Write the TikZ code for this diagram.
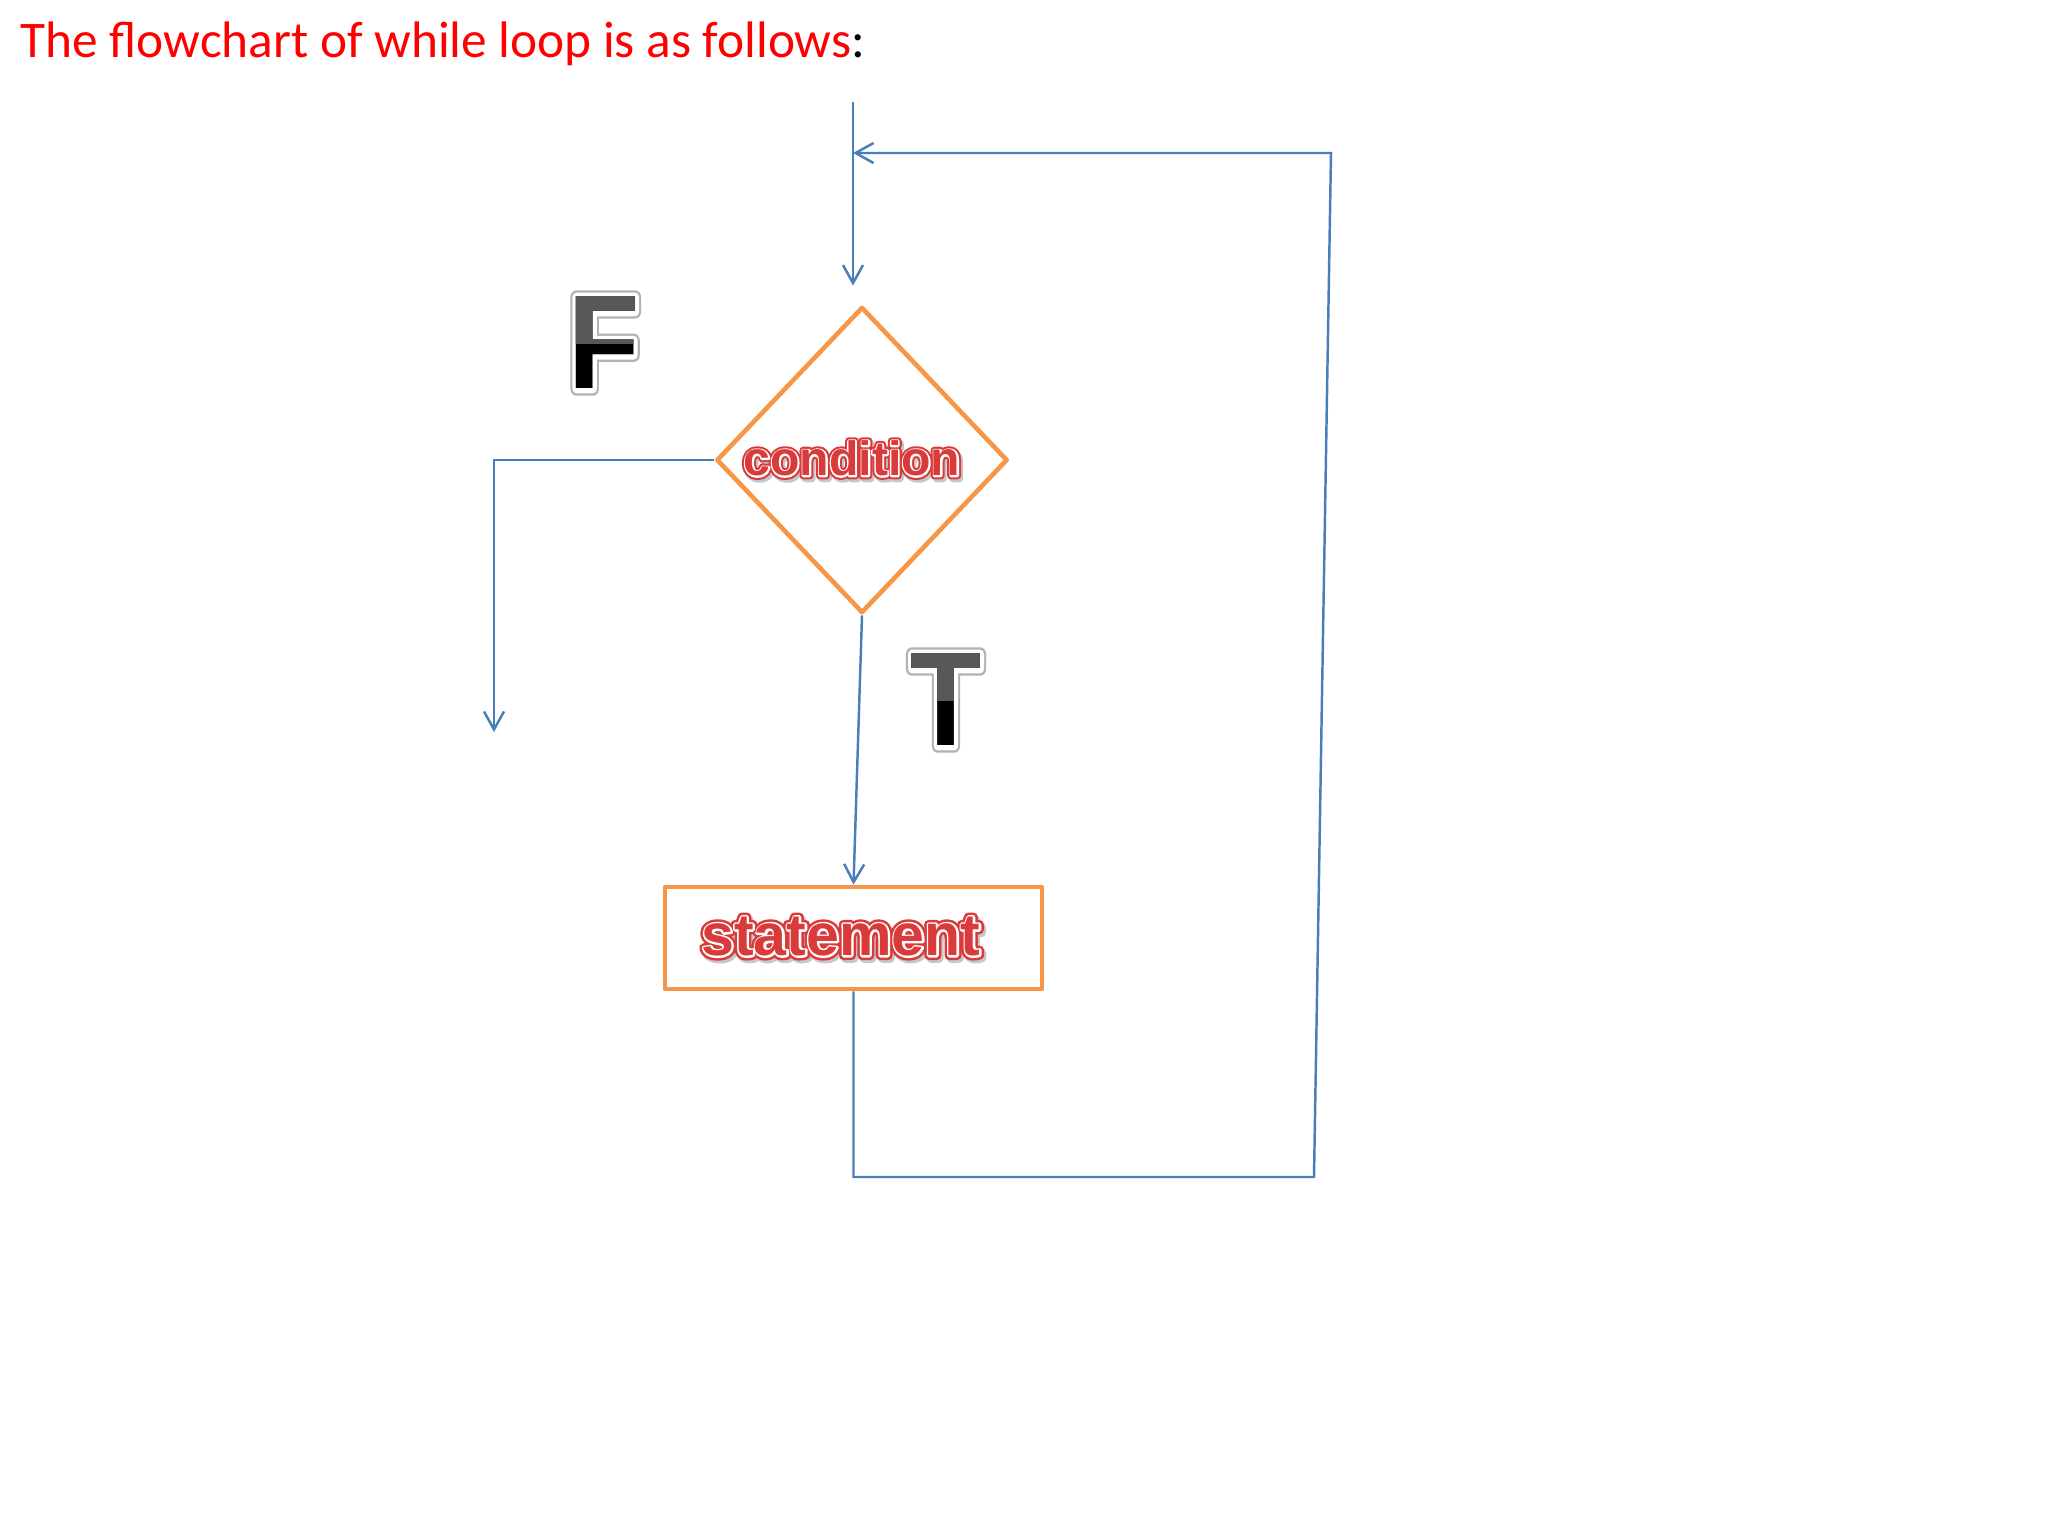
\documentclass[tikz,border=0pt]{standalone}
\usepackage{fontspec}
\setmainfont{Carlito}
\newfontfamily\artfont{Liberation Sans Bold}
\newfontfamily\artrim{Liberation Sans Bold}[FakeBold=15]
\newfontfamily\artline{Liberation Sans Bold}[FakeBold=6.5]
\newfontfamily\letterrim{Liberation Sans Bold}[FakeBold=10]
\newfontfamily\letterline{Liberation Sans Bold}[FakeBold=6.5]
\usepackage{xcolor}
\usetikzlibrary{shapes.geometric,arrows.meta}

\definecolor{flowblue}{HTML}{4A7EBB}
\definecolor{boxorange}{HTML}{F79646}
\definecolor{artred}{HTML}{D93A3A}
\definecolor{lettergrey}{HTML}{585858}

% red word-art text: shadow, red rim, white inline, red fill
\newcommand{\artword}[1]{%
  \rlap{\kern0.6pt\raisebox{-0.8pt}{\artrim\textcolor{black!22}{#1}}}%
  \rlap{\artrim\textcolor{artred}{#1}}%
  \rlap{\artline\textcolor{white}{#1}}%
  {\artfont\textcolor{artred}{#1}}}
% big black letter with white rim and grey edge
\newcommand{\bigletter}[1]{%
  \rlap{\letterrim\textcolor{black!30}{#1}}%
  \rlap{\letterline\textcolor{white}{#1}}%
  {\artfont\textcolor{black}{#1}}}

\begin{document}
\begin{tikzpicture}[x=0.01cm,y=-0.01cm,>={Straight Barb[length=0.18cm,width=0.2cm]},
  flow/.style={draw=flowblue,line width=0.7pt},
  decision/.style={diamond,draw=boxorange,line width=1.3pt,line join=round,inner sep=0pt,minimum width=2.91cm,minimum height=3.06cm,font=\artfont\fontsize{13.7pt}{14pt}\selectfont},
  process/.style={rectangle,draw=boxorange,line width=1.3pt,line join=round,inner sep=0pt,minimum width=3.77cm,minimum height=1.02cm,font=\artfont\fontsize{16.8pt}{17pt}\selectfont},
  tf/.style={inner sep=0pt,line join=round,font=\artfont\fontsize{38pt}{38pt}\selectfont}]

  \useasboundingbox (0,0) rectangle (2048,1536);
  \fill[white] (0,0) rectangle (2048,1536);

  \node[anchor=base west,inner sep=0pt,font=\fontsize{14.6pt}{17pt}\selectfont] (title) at (20,57)
    {\textcolor{red}{The flowchart of while loop is as follows}:};

  \node[decision] (cond) at (862,460) {\artword{condition}\kern0.2cm};
  \node[process] (stmt) at (853.5,938) {\artword{statement}\kern0.25cm};

  \node[tf] (F) at (604,343) {\scalebox{0.87}[1]{\bigletter{F}}};
  \begin{scope}
    \clip ([xshift=-1cm]F.center) rectangle ([xshift=1cm,yshift=1cm]F.center);
    \node[tf,text=lettergrey] (Ftop) at (F.center) {\scalebox{0.87}[1]{F}};
  \end{scope}
  \node[tf] (T) at (946,700) {\scalebox{0.87}[1]{\bigletter{T}}};
  \begin{scope}
    \clip ([xshift=-1cm]T.center) rectangle ([xshift=1cm,yshift=1cm]T.center);
    \node[tf,text=lettergrey] (Ttop) at (T.center) {\scalebox{0.87}[1]{T}};
  \end{scope}

  \coordinate (start) at (853,102);
  \coordinate (fout) at (494,732);
  \coordinate (back) at (1314,1177);
  \coordinate (topback) at (1331,153);

  \draw[flow,->,shorten >=0.19cm] (start) to (start |- cond.north);
  \draw[flow,->] (cond.west) -- (fout |- cond.west) -- (fout);
  \draw[flow,->] (cond.south) to (stmt.north);
  \draw[flow,->] (stmt.south) -- (stmt.south |- back) -- (back) -- (topback) -- (start |- topback);

\end{tikzpicture}
\end{document}
